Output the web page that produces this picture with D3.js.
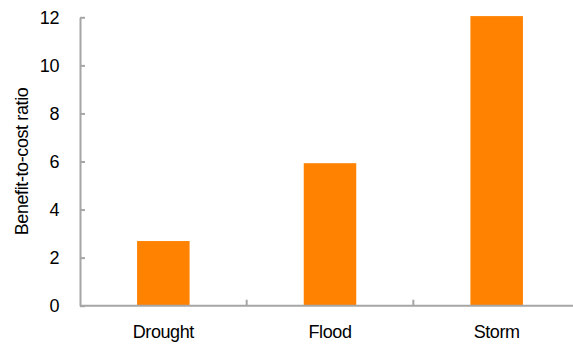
<!DOCTYPE html>
<html>
<head>
<meta charset="utf-8">
<script src="https://cdn.jsdelivr.net/npm/d3@7"></script>
<style>
  html, body { margin: 0; padding: 0; background: #fff; }
  svg { display: block; font-family: "Liberation Sans", Arial, sans-serif; }
</style>
</head>
<body>
<svg id="chart" width="573" height="345"></svg>
<script>
// Benefit-to-cost ratio by hazard type
const categories = ["Drought", "Flood", "Storm"];
const ratios = [2.69, 5.93, 12.05];
const yTicks = [0, 2, 4, 6, 8, 10, 12];

const svg = d3.select("#chart");
const plotLeft = 80, plotRight = 580, plotTop = 17.3, plotBottom = 305.7;
const axisColor = "#a6a6a6";
const fontSize = 18, tracking = "-0.4px";

const x = d3.scaleBand().domain(categories).range([plotLeft, plotRight]).paddingInner(0).paddingOuter(0);
const y = d3.scaleLinear().domain([0, 12]).range([plotBottom, plotTop]);
const barW = 52.5;

// bars
svg.append("g").selectAll("rect")
  .data(categories.map((c, i) => ({ c, v: ratios[i] })))
  .join("rect")
  .attr("x", d => x(d.c) + x.bandwidth() / 2 - barW / 2)
  .attr("width", barW)
  .attr("y", d => y(d.v))
  .attr("height", d => y(0) - y(d.v))
  .attr("fill", "#ff8200");

// y axis: ticks point inward
const yAxis = svg.append("g")
  .attr("transform", `translate(${plotLeft},0)`)
  .call(d3.axisLeft(y).tickValues(yTicks).tickSizeInner(-5).tickSizeOuter(0).tickPadding(21));
yAxis.select(".domain").attr("stroke", axisColor).attr("stroke-width", 2);
yAxis.selectAll(".tick line").attr("stroke", axisColor).attr("stroke-width", 2);
yAxis.selectAll(".tick text").attr("font-size", fontSize).attr("fill", "#000")
  .attr("letter-spacing", tracking)
  .attr("font-family", "Liberation Sans, Arial, sans-serif");

// x axis: band separators drawn as upward ticks
const xAxis = svg.append("g").attr("transform", `translate(0,${plotBottom})`);
xAxis.append("line")
  .attr("x1", plotLeft).attr("x2", plotRight)
  .attr("stroke", axisColor).attr("stroke-width", 2);
xAxis.selectAll("line.sep")
  .data(categories.slice(1))
  .join("line")
  .attr("class", "sep")
  .attr("x1", d => x(d)).attr("x2", d => x(d))
  .attr("y1", 0).attr("y2", -6)
  .attr("stroke", axisColor).attr("stroke-width", 2);
xAxis.selectAll("text")
  .data(categories)
  .join("text")
  .attr("x", d => x(d) + x.bandwidth() / 2)
  .attr("y", 32)
  .attr("text-anchor", "middle")
  .attr("font-size", fontSize)
  .attr("letter-spacing", tracking)
  .attr("fill", "#000")
  .text(d => d);

// y axis title
svg.append("text")
  .attr("transform", `translate(28,${(plotTop + plotBottom) / 2}) rotate(-90)`)
  .attr("text-anchor", "middle")
  .attr("font-size", fontSize)
  .attr("letter-spacing", tracking)
  .attr("fill", "#000")
  .text("Benefit-to-cost ratio");
</script>
</body>
</html>
